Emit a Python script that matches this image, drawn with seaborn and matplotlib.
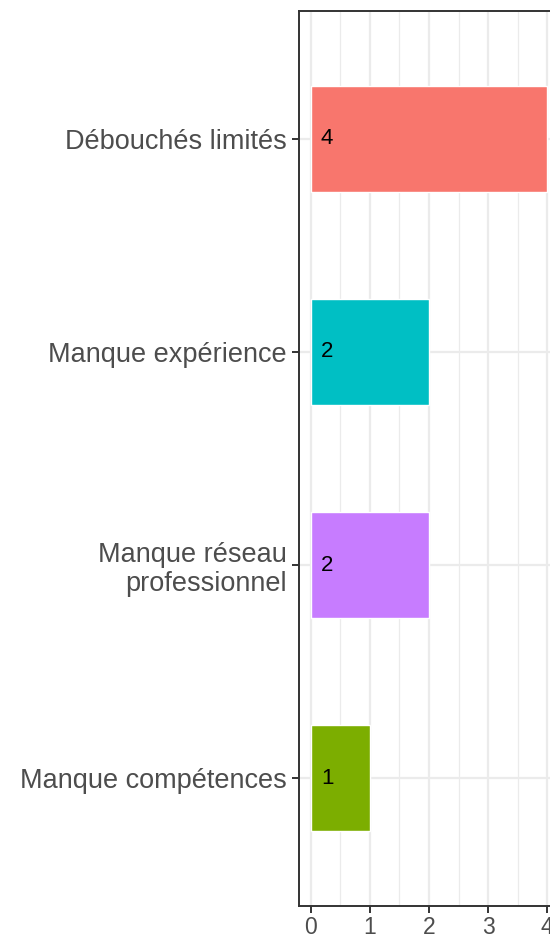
import pandas as pd
import matplotlib.pyplot as plt
from matplotlib.ticker import MultipleLocator
import seaborn as sns

categories = ["Débouchés limités", "Manque expérience",
              "Manque réseau\nprofessionnel", "Manque compétences"]
counts = [4, 2, 2, 1]
colors = ["#F8766D", "#00BFC4", "#C77CFF", "#7CAE00"]
x_ticks = [0, 1, 2, 3, 4]

df = pd.DataFrame({"Obstacle": categories, "Count": counts})

sns.set_theme(style="white")
plt.rcParams["font.family"] = ["Liberation Sans", "DejaVu Sans"]

fig = plt.figure(figsize=(5.5, 9.4), dpi=100)
# panel runs past the right edge, like the cropped original
ax = fig.add_axes([299 / 550, 34 / 940, 260 / 550, 895 / 940])

sns.barplot(
    data=df, x="Count", y="Obstacle", hue="Obstacle",
    palette=dict(zip(categories, colors)), orient="h",
    width=0.5, saturation=1, legend=False, ax=ax, zorder=2,
)

for i, v in enumerate(counts):
    ax.text(0.17, i, str(v), ha="left", va="center", fontsize=16,
            color="black", zorder=3)

ax.set_xlim(-0.2, 4.2)
ax.set_ylim(3.6, -0.6)
ax.set_xticks(x_ticks)
ax.xaxis.set_minor_locator(MultipleLocator(0.5))
ax.grid(True, which="major", color="#EBEBEB", linewidth=1.6, zorder=0)
ax.grid(True, which="minor", axis="x", color="#EBEBEB", linewidth=0.9, zorder=0)
ax.set_axisbelow(True)

ax.set_xlabel("")
ax.set_ylabel("")
ax.tick_params(axis="both", which="major", length=5, width=1.4,
               color="#333333", labelcolor="#4D4D4D", left=True, bottom=True)
ax.tick_params(axis="x", labelsize=16.5, pad=2)
ax.tick_params(axis="y", labelsize=19.5, pad=4)
ax.tick_params(which="minor", length=0)
for lab in ax.get_yticklabels():
    lab.set_linespacing(1.15)

for s in ax.spines.values():
    s.set_color("#333333")
    s.set_linewidth(1.4)
    s.set_visible(True)

fig.savefig("out.png", dpi=100)
